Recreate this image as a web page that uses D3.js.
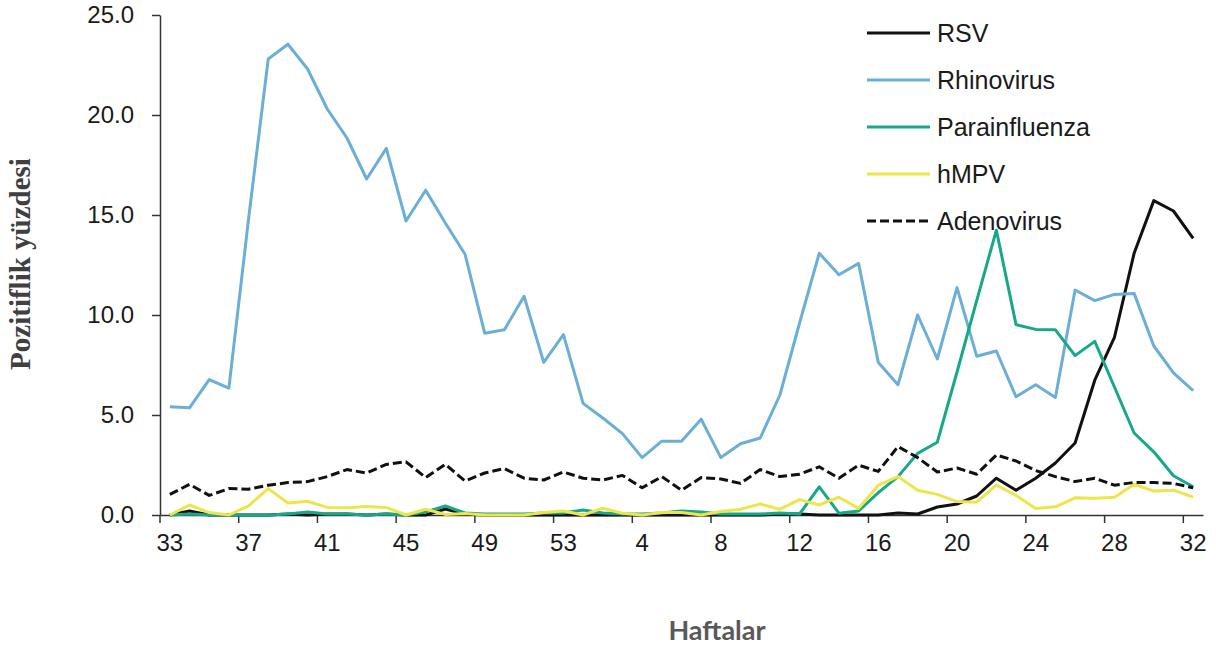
<!DOCTYPE html>
<html>
<head>
<meta charset="utf-8">
<script src="https://cdn.jsdelivr.net/npm/d3@7"></script>
<style>
body{margin:0;background:#fff}
</style>
</head>
<body>
<svg id="chart" width="1216" height="651"></svg>
<script>
// weeks of the season, 33..53 then 1..32
const weeks = [33,34,35,36,37,38,39,40,41,42,43,44,45,46,47,48,49,50,51,52,53,
  1,2,3,4,5,6,7,8,9,10,11,12,13,14,15,16,17,18,19,20,21,22,23,24,25,26,27,28,29,30,31,32]
const tickWeeks = [33,37,41,45,49,53,4,8,12,16,20,24,28,32]
const yTicks = [0,5,10,15,20,25]

const rsv = [0,0.2,0,0,0,0,0.05,0,0.05,0.05,0,0.05,0,0,0.3,0.05,0,0,0,0,0,
  0,0,0,0,0,0,0,0,0,0,0.05,0.05,0,0,0,0,0.1,0.05,0.4,0.55,0.95,1.84,1.24,1.84,2.6,3.6,6.74,8.88,13.09,15.72,15.2,13.83]
const rhinovirus = [5.41,5.36,6.77,6.34,14.8,22.8,23.54,22.3,20.3,18.85,16.8,18.33,14.7,16.24,14.6,13.04,9.09,9.26,10.94,7.63,9.02,
  5.58,4.85,4.07,2.87,3.69,3.69,4.79,2.87,3.56,3.85,6.0,9.6,13.09,12.01,12.58,7.63,6.51,10.0,7.8,11.37,7.94,8.2,5.91,6.51,5.88,11.25,10.72,11.03,11.08,8.45,7.11,6.22]
const parainfluenza = [0,0.05,0,0,0,0,0.05,0.15,0.05,0.05,0,0.05,0,0.15,0.45,0.1,0.05,0.05,0.05,0.1,0.1,
  0.25,0.1,0.05,0.05,0.1,0.2,0.15,0.05,0.05,0.05,0.1,0.05,1.41,0.09,0.2,1.12,1.92,3.08,3.64,7.15,10.72,14.24,9.52,9.28,9.26,7.97,8.68,6.4,4.1,3.16,1.96,1.41]
const hmpv = [0,0.5,0.12,0,0.46,1.32,0.6,0.69,0.38,0.36,0.43,0.38,0,0.29,0.03,0.07,0,0,0,0.12,0.2,
  0,0.34,0.09,0,0.12,0.12,0,0.17,0.29,0.55,0.29,0.77,0.5,0.89,0.33,1.49,1.92,1.24,1.03,0.67,0.64,1.49,0.98,0.33,0.41,0.86,0.84,0.89,1.53,1.2,1.24,0.89]
const adenovirus = [1.03,1.53,0.98,1.32,1.29,1.49,1.62,1.67,1.92,2.27,2.1,2.53,2.66,1.87,2.53,1.7,2.1,2.32,1.84,1.75,2.15,
  1.84,1.75,1.98,1.36,1.92,1.24,1.87,1.8,1.58,2.27,1.92,2.04,2.41,1.84,2.49,2.18,3.42,2.87,2.15,2.35,2.04,3.0,2.7,2.22,1.92,1.67,1.84,1.49,1.63,1.62,1.58,1.36]

const seriesNames = ["RSV","Rhinovirus","Parainfluenza","hMPV","Adenovirus"]
const seriesValues = [rsv, rhinovirus, parainfluenza, hmpv, adenovirus]
const seriesColors = ["#111111","#6baed6","#17a887","#ede54c","#111111"]
const seriesDash = [null,null,null,null,"9,4"]

const svg = d3.select("#chart")
const plotLeft = 160, plotRight = 1203, plotTop = 15, plotBottom = 515

let x = d3.scaleBand().domain(weeks).range([plotLeft,plotRight]).padding(0)
let y = d3.scaleLinear().domain([0,25]).range([plotBottom,plotTop])
const cx = w => x(w) + x.bandwidth()/2

// y axis
let yAxis = svg.append("g")
    .attr("transform","translate("+plotLeft+",0)")
    .call(d3.axisLeft(y).tickValues(yTicks).tickFormat(d3.format(".1f")).tickSize(8).tickSizeOuter(0).tickPadding(18))
yAxis.selectAll("text").style("font-family","'Liberation Sans', Arial, sans-serif").style("font-size","24px").attr("fill","#1a1a1a")
yAxis.selectAll("line,path").attr("stroke","#333").attr("stroke-width",1.5)

// x axis: labels under the weeks, tick marks on the category boundaries
let xAxis = svg.append("g")
    .attr("transform","translate(0,"+plotBottom+")")
    .call(d3.axisBottom(x).tickValues(tickWeeks).tickSize(0).tickSizeOuter(0).tickPadding(19))
xAxis.selectAll("text").style("font-family","'Liberation Sans', Arial, sans-serif").style("font-size","24px").attr("fill","#1a1a1a")
xAxis.select("path").attr("stroke","#333").attr("stroke-width",1.5)
xAxis.selectAll(".tickmark").data(tickWeeks).enter().append("line")
    .attr("class","tickmark")
    .attr("x1",d=>x(d)).attr("x2",d=>x(d))
    .attr("y1",0).attr("y2",8)
    .attr("stroke","#333").attr("stroke-width",1.5)

// lines
let line = d3.line().x((d,i)=>cx(weeks[i])).y(d=>y(d))
seriesValues.forEach((vals,k)=>{
  svg.append("path")
    .datum(vals)
    .attr("d",line)
    .attr("fill","none")
    .attr("stroke",seriesColors[k])
    .attr("stroke-width",3)
    .attr("stroke-linejoin","round")
    .attr("stroke-dasharray",seriesDash[k])
})

// legend
let legend = svg.append("g")
seriesNames.forEach((name,k)=>{
  let ly = 33 + k*47
  legend.append("line")
    .attr("x1",867).attr("x2",930).attr("y1",ly).attr("y2",ly)
    .attr("stroke",seriesColors[k]).attr("stroke-width",3)
    .attr("stroke-dasharray",seriesDash[k])
  legend.append("text")
    .attr("x",937).attr("y",ly)
    .attr("dy","0.36em")
    .style("font-family","'Liberation Sans', Arial, sans-serif")
    .style("font-size","25px")
    .attr("fill","#1a1a1a")
    .text(name)
})

// titles
svg.append("text")
  .attr("transform","translate(30,264) rotate(-90)")
  .attr("text-anchor","middle")
  .style("font-family","'Liberation Serif', 'Times New Roman', serif")
  .style("font-weight","bold")
  .style("font-size","29px")
  .attr("fill","#404040")
  .text("Pozitiflik yüzdesi")

svg.append("text")
  .attr("x",717).attr("y",640)
  .attr("text-anchor","middle")
  .style("font-family","Lato, 'Liberation Sans', sans-serif")
  .style("font-weight","bold")
  .style("font-size","27px")
  .attr("fill","#595959")
  .text("Haftalar")
</script>
</body>
</html>
